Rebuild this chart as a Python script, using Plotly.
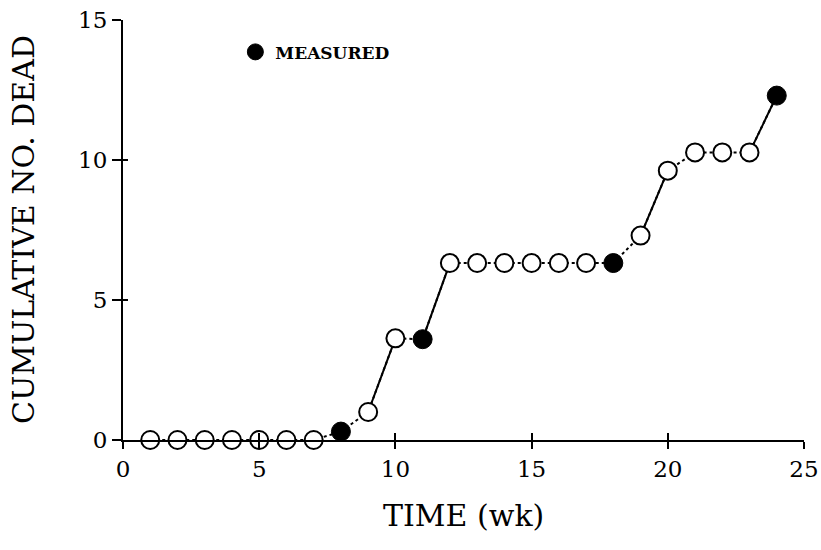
import plotly.graph_objects as go

weeks = list(range(1, 25))
cum_dead = [0, 0, 0, 0, 0, 0, 0, 0.3, 1.0, 3.63, 3.6, 6.32, 6.32, 6.32, 6.32, 6.32, 6.32, 6.32, 7.3, 9.62, 10.27, 10.27, 10.27, 12.3]
measured = [False] * 7 + [True, False, False, True] + [False] * 6 + [True] + [False] * 5 + [True]
solid_pairs = [(9, 10), (11, 12), (19, 20), (23, 24)]
x_ticks = [0, 5, 10, 15, 20, 25]
y_ticks = [0, 5, 10, 15]

FONT = "DejaVu Serif"
fig = go.Figure()

# dotted connection through all points
fig.add_trace(go.Scatter(x=weeks, y=cum_dead, mode="lines",
                         line=dict(color="black", width=2, dash="dot"),
                         showlegend=False, hoverinfo="skip", cliponaxis=False))
# solid segments
for a, b in solid_pairs:
    ia, ib = weeks.index(a), weeks.index(b)
    fig.add_trace(go.Scatter(x=[weeks[ia], weeks[ib]], y=[cum_dead[ia], cum_dead[ib]], mode="lines",
                             line=dict(color="black", width=2),
                             showlegend=False, hoverinfo="skip", cliponaxis=False))

ox = [w for w, m in zip(weeks, measured) if not m]
oy = [v for v, m in zip(cum_dead, measured) if not m]
mx = [w for w, m in zip(weeks, measured) if m]
my = [v for v, m in zip(cum_dead, measured) if m]

fig.add_trace(go.Scatter(x=ox, y=oy, mode="markers",
                         marker=dict(symbol="circle", size=18, color="white",
                                     line=dict(color="black", width=2)),
                         showlegend=False, cliponaxis=False))
fig.add_trace(go.Scatter(x=mx, y=my, mode="markers", name="MEASURED",
                         marker=dict(symbol="circle", size=19, color="black",
                                     line=dict(color="black", width=1)),
                         showlegend=True, cliponaxis=False))

# overlay axes providing the inner half of the crossing ticks
fig.add_trace(go.Scatter(x=[0, 25], y=[0, 15], xaxis="x2", yaxis="y2", mode="markers",
                         marker=dict(opacity=0), showlegend=False, hoverinfo="skip"))

fig.update_layout(
    width=821, height=550,
    margin=dict(l=123, r=17, t=20, b=110, autoexpand=False),
    paper_bgcolor="white", plot_bgcolor="white",
    font=dict(family=FONT, color="black"),
    xaxis=dict(range=[0, 25], tickvals=x_ticks, ticks="outside", ticklen=7, tickwidth=2,
               tickcolor="black", showline=True, linecolor="black", linewidth=2, automargin=False,
               showgrid=False, zeroline=False, tickfont=dict(size=23, family=FONT)),
    yaxis=dict(range=[0, 15], tickvals=y_ticks, ticks="outside", ticklen=9, tickwidth=2,
               tickcolor="black", showline=True, linecolor="black", linewidth=2, automargin=False,
               showgrid=False, zeroline=False, tickfont=dict(size=23, family=FONT)),
    xaxis2=dict(overlaying="x", anchor="y2", side="bottom", range=[0, 25], tickvals=x_ticks,
                ticks="inside", ticklen=7, tickwidth=2, tickcolor="black", showticklabels=False,
                showgrid=False, zeroline=False, showline=False, automargin=False),
    yaxis2=dict(overlaying="y", anchor="x2", side="left", range=[0, 15], tickvals=y_ticks,
                ticks="inside", ticklen=5, tickwidth=2, tickcolor="black", showticklabels=False,
                showgrid=False, zeroline=False, showline=False, automargin=False),
    legend=dict(x=0.165, y=0.923, xanchor="left", yanchor="middle",
                font=dict(size=17, family=FONT, weight="bold"), bgcolor="rgba(0,0,0,0)",
                itemsizing="trace"),
    showlegend=True,
    annotations=[
        dict(text="TIME (wk)", xref="paper", yref="paper", x=0.5, y=-(515 - 440) / 420,
             xanchor="center", yanchor="middle", showarrow=False,
             font=dict(size=30, family=FONT)),
        dict(text="CUMULATIVE NO. DEAD", xref="paper", yref="paper", x=(23 - 123) / 681, y=0.5,
             xanchor="center", yanchor="middle", textangle=-90, showarrow=False,
             font=dict(size=30, family=FONT)),
    ],
)

post = (
    "document.documentElement.style.margin='0';"
    "document.documentElement.style.padding='0';"
    "document.documentElement.style.overflow='hidden';"
    "document.body.style.margin='0';"
    "document.body.style.padding='0';"
    "document.body.style.overflow='hidden';"
)
fig.write_html("out.html", post_script=post, config={"displayModeBar": False})
